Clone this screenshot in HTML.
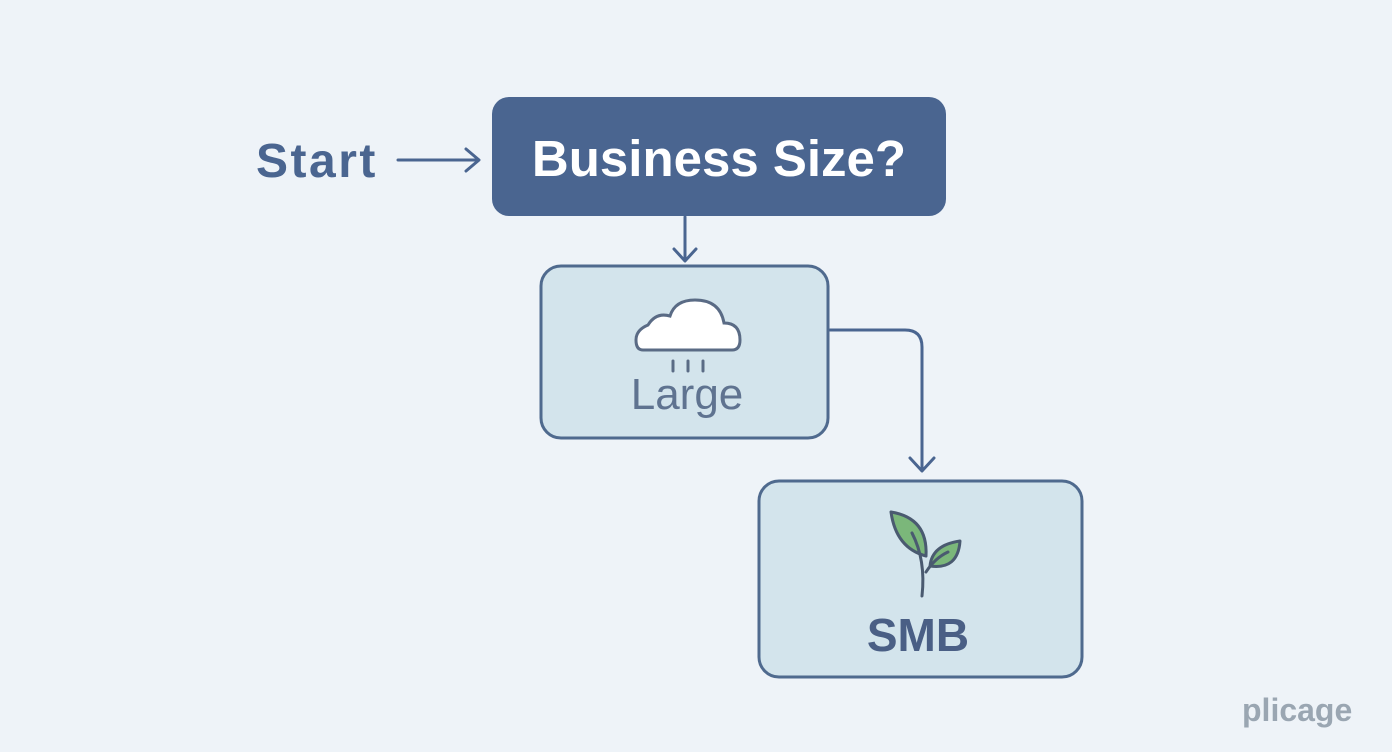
<!DOCTYPE html>
<html><head><meta charset="utf-8"><style>
html,body{margin:0;padding:0;background:#eef3f8;}
svg{display:block}
text{font-family:"Liberation Sans",sans-serif;}
</style></head><body>
<svg width="1392" height="752" viewBox="0 0 1392 752">
<rect width="1392" height="752" fill="#eef3f8"/>
<text x="256" y="177" font-size="48" font-weight="bold" fill="#4a6590" letter-spacing="2.5">Start</text>
<g stroke="#4a6590" stroke-width="3" fill="none" stroke-linecap="round" stroke-linejoin="round">
<line x1="398" y1="160" x2="478" y2="160"/>
<polyline points="466,149 479,160 466,171"/>
<line x1="685" y1="217" x2="685" y2="260"/>
<polyline points="674,249 685,261 696,249"/>
<path d="M830,330 H905 Q922,330 922,347 V470"/>
<polyline points="910,458 922,471 934,458"/>
</g>
<rect x="492" y="97" width="454" height="119" rx="17" fill="#4a6590"/>
<text x="719" y="176" font-size="51" font-weight="bold" fill="#ffffff" text-anchor="middle">Business Size?</text>
<rect x="541" y="266" width="287" height="172" rx="20" fill="#d3e4ec" stroke="#4f6a8e" stroke-width="3"/>
<path d="M643,350 H732 Q740,350 740,340 Q740,323 724,323 Q720,300 695,300 Q675,300 670,316 Q656,312 648,325 Q636,330 636,340 Q636,350 643,350 Z" fill="#ffffff" stroke="#5a6b85" stroke-width="3"/>
<g stroke="#5a6b85" stroke-width="3" stroke-linecap="round"><line x1="673" y1="361" x2="673" y2="371"/><line x1="688" y1="361" x2="688" y2="371"/><line x1="703" y1="361" x2="703" y2="371"/></g>
<text x="687" y="409" font-size="44" fill="#5f7390" text-anchor="middle">Large</text>
<rect x="759" y="481" width="323" height="196" rx="20" fill="#d3e4ec" stroke="#4f6a8e" stroke-width="3"/>
<g stroke="#4a5a70" stroke-width="3" stroke-linejoin="round" stroke-linecap="round">
<path d="M891,512 Q928,518 926,556 Q896,548 891,512 Z" fill="#7bb77a"/>
<path d="M960,541 Q958,570 930,566 Q932,545 960,541 Z" fill="#7bb77a"/>
<path d="M922,596 Q926,560 912,533" fill="none"/>
<path d="M926,572 Q935,558 948,552" fill="none"/>
</g>
<text x="918" y="651" font-size="46" font-weight="bold" fill="#4a5f85" text-anchor="middle">SMB</text>
<text x="1242" y="721" font-size="32" font-weight="bold" fill="#9aa6b2">plicage</text>
</svg>
</body></html>
